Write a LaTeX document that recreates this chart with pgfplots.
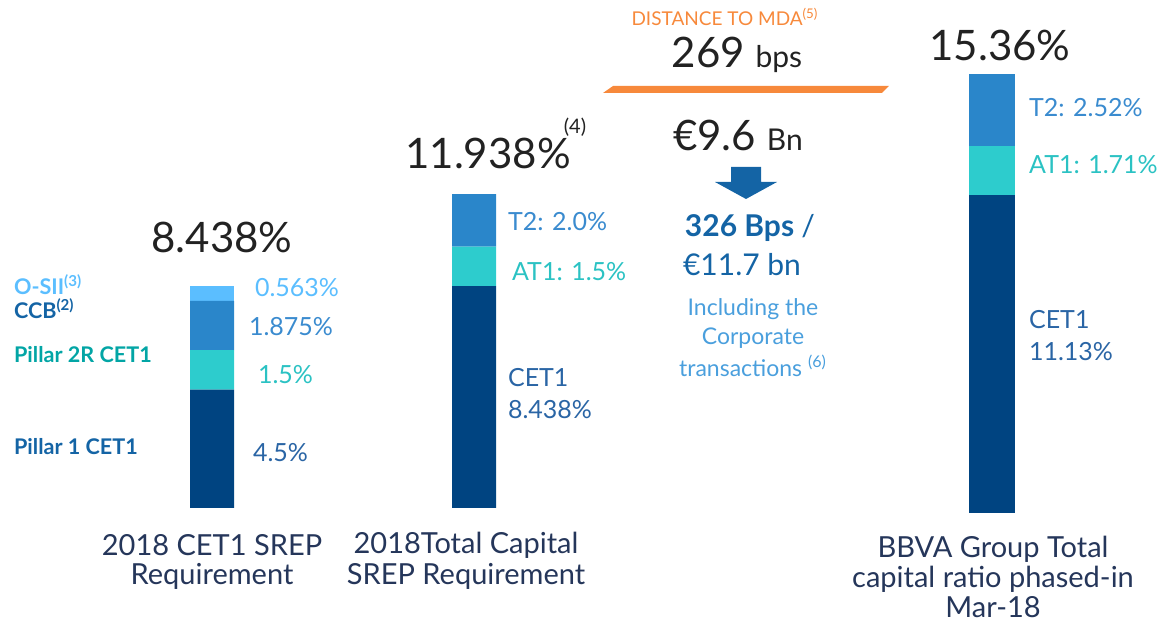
\documentclass[border=0pt]{standalone}
\usepackage{fontspec}
\setmainfont{Lato}
\usepackage{pgfplots}
\pgfplotsset{compat=1.18}
\definecolor{navy}{HTML}{004481}
\definecolor{midblue}{HTML}{2A86CA}
\definecolor{turq}{HTML}{2DCCCD}
\definecolor{lightblue}{HTML}{5BBEFF}
\definecolor{mdaorange}{HTML}{F7893B}
\definecolor{arrowblue}{HTML}{1464A5}
\definecolor{labblue}{HTML}{1464A5}
\definecolor{labteal}{HTML}{02A5A5}
\definecolor{valblue}{HTML}{3A8BCF}
\definecolor{valturq}{HTML}{2BC2C3}
\definecolor{valnavy}{HTML}{2A65A5}
\definecolor{textnavy}{HTML}{25365A}
\definecolor{incl}{HTML}{4A9FDD}
\definecolor{bigtext}{HTML}{222222}

\pgfplotsset{capbars/.style={
    hide axis, scale only axis,
    width=578.5pt, height=312pt,
    at={(0,0)}, anchor=south west,
    xmin=0, xmax=1157,
    clip=false,
    ybar stacked, bar shift=0pt,
}}

\begin{document}
\begin{tikzpicture}
% bars 1 and 2 (requirements)
\begin{axis}[capbars, ymin=-4.411, ymax=19.316, bar width=22pt]
  % CET1 / Pillar 1
  \addplot[fill=navy, draw=none] coordinates {(212,4.5) (474,8.438)};
  % Pillar 2R / AT1
  \addplot[fill=turq, draw=none] coordinates {(212,1.5) (474,1.5)};
  % CCB / T2
  \addplot[fill=midblue, draw=none] coordinates {(212,1.875) (474,2.0)};
  % O-SII
  \addplot[fill=lightblue, draw=none] coordinates {(212,0.563) (474,0)};
\end{axis}
% bar 3 (BBVA group, Mar-18)
\begin{axis}[capbars, ymin=-3.884, ymax=17.95, bar width=23pt]
  \addplot[fill=navy, draw=none] coordinates {(992,11.13)};
  \addplot[fill=turq, draw=none] coordinates {(992,1.71)};
  \addplot[fill=midblue, draw=none] coordinates {(992,2.52)};
\end{axis}

\begin{scope}[shift={(0,312pt)}, x=0.5pt, y=-0.5pt]
  % totals
  \node[bigtext, font=\fontsize{21}{25}\selectfont] at (222,237) {8.438\%};
  \node[bigtext, font=\fontsize{21}{25}\selectfont] at (488,153) {11.938\%};
  \node[bigtext, font=\fontsize{10}{12}\selectfont] at (575,127) {(4)};
  \node[bigtext, font=\fontsize{21}{25}\selectfont] at (1000,45) {15.36\%};

  % left legend labels
  \begin{scope}[font=\fontsize{10.8}{13}\bfseries\selectfont]
    \node[lightblue, anchor=west] at (7,285) {O-SII\textsuperscript{(3)}};
    \node[labblue, anchor=west] at (7,309) {CCB\textsuperscript{(2)}};
    \node[labteal, anchor=west] at (7,355) {Pillar 2R CET1};
    \node[labblue, anchor=west] at (7,447) {Pillar 1 CET1};
  \end{scope}

  % bar 1 values
  \begin{scope}[font=\fontsize{12.5}{15}\selectfont]
    \node[lightblue, anchor=west] at (248,288) {0.563\%};
    \node[valblue, anchor=west] at (242,327) {1.875\%};
    \node[valturq, anchor=west] at (251,375) {1.5\%};
    \node[valnavy, anchor=west] at (246,453) {4.5\%};
    % bar 2 values
    \node[valblue, anchor=west] at (501,222) {T2: 2.0\%};
    \node[valturq, anchor=west] at (505,272) {AT1: 1.5\%};
    \node[valnavy, anchor=west] at (501,378) {CET1};
    \node[valnavy, anchor=west] at (501,410) {8.438\%};
    % bar 3 values
    \node[valblue, anchor=west] at (1022,108) {T2: 2.52\%};
    \node[valturq, anchor=west] at (1022,165) {AT1: 1.71\%};
    \node[valnavy, anchor=west] at (1022,320) {CET1};
    \node[valnavy, anchor=west] at (1022,352) {11.13\%};
  \end{scope}

  % category labels
  \begin{scope}[textnavy, font=\fontsize{14.5}{17}\selectfont]
    \node at (212,545) {2018 CET1 SREP};
    \node at (212,576) {Requirement};
    \node at (466,545) {2018Total Capital};
    \node at (466,576) {SREP Requirement};
    \node at (993,549) {BBVA Group Total};
    \node at (993,579) {capital ratio phased-in};
    \node[inner sep=0pt] at (993,607) {Mar-18};
  \end{scope}

  % distance to MDA block
  \node[mdaorange, font=\fontsize{9.5}{11}\selectfont] at (725,17) {DISTANCE TO MDA\textsuperscript{(5)}};
  \node[bigtext] at (737,55) {\fontsize{21}{25}\selectfont 269 \fontsize{15}{18}\selectfont bps};
  \fill[mdaorange] (613,86) -- (889,86) -- (882,93) -- (603,93) -- cycle;
  \node[bigtext] at (738,135) {\fontsize{21}{25}\selectfont €9.6 \fontsize{15}{18}\selectfont Bn};
  \fill[arrowblue] (731,167) -- (761,167) -- (761,182) -- (777,182) -- (746,199)
    -- (715,182) -- (731,182) -- cycle;
  \node[arrowblue, font=\fontsize{15}{18}\bfseries\selectfont] at (750,228) {326 Bps \mdseries/};
  \node[arrowblue, font=\fontsize{15}{18}\selectfont] at (742,265) {€11.7 bn};
  \begin{scope}[incl, font=\fontsize{11.5}{14}\selectfont]
    \node at (753,309) {Including the};
    \node at (753,338) {Corporate};
    \node at (753,366) {transactions \textsuperscript{(6)}};
  \end{scope}
\end{scope}

\pgfresetboundingbox
\path[use as bounding box] (0,0) rectangle (578.5pt,312pt);
\end{tikzpicture}
\end{document}
